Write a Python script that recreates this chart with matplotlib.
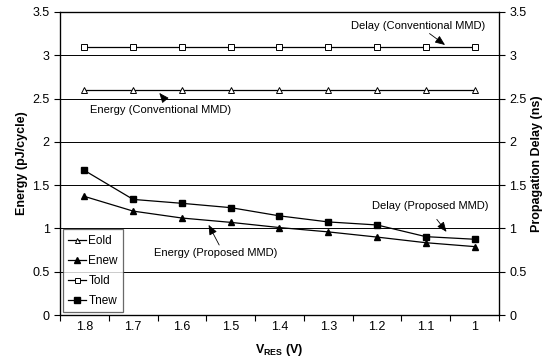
import numpy as np
import matplotlib
matplotlib.use('Agg')
import matplotlib.pyplot as plt

plt.rcParams['font.family'] = ['Liberation Sans', 'DejaVu Sans']
plt.rcParams['mathtext.fontset'] = 'custom'
plt.rcParams['mathtext.rm'] = 'Liberation Sans'
plt.rcParams['mathtext.bf'] = 'Liberation Sans:bold'

# Data
v_res = ['1.8', '1.7', '1.6', '1.5', '1.4', '1.3', '1.2', '1.1', '1']
e_old = [2.6, 2.6, 2.6, 2.6, 2.6, 2.6, 2.6, 2.6, 2.6]
e_new = [1.37, 1.20, 1.12, 1.07, 1.01, 0.96, 0.90, 0.835, 0.79]
t_old = [3.1, 3.1, 3.1, 3.1, 3.1, 3.1, 3.1, 3.1, 3.1]
t_new = [1.67, 1.335, 1.29, 1.24, 1.145, 1.075, 1.04, 0.905, 0.875]
y_ticks = [0, 0.5, 1, 1.5, 2, 2.5, 3, 3.5]
y_labels = ['0', '0.5', '1', '1.5', '2', '2.5', '3', '3.5']

x = np.arange(len(v_res))

fig = plt.figure(figsize=(5.47, 3.6), dpi=100)
ax = fig.add_axes([0.1097, 0.125, 0.8025, 0.8417])

for yv in y_ticks[1:-1]:
    ax.axhline(yv, color='black', lw=0.7, zorder=1)

ax.plot(x, e_old, '-^', color='black', lw=0.9, ms=4, mfc='white', mec='black', mew=0.7, label='Eold', zorder=3)
ax.plot(x, e_new, '-^', color='black', lw=0.9, ms=4.5, mfc='black', mec='black', label='Enew', zorder=3)
ax.plot(x, t_old, '-s', color='black', lw=0.9, ms=4, mfc='white', mec='black', mew=0.7, label='Told', zorder=3)
ax.plot(x, t_new, '-s', color='black', lw=0.9, ms=4.5, mfc='black', mec='black', label='Tnew', zorder=3)

ax.set_xlim(-0.5, len(v_res) - 0.5)
ax.set_ylim(0, 3.5)
ax.set_yticks(y_ticks)
ax.set_yticklabels(y_labels)
ax.set_xticks(x)
ax.set_xticklabels(v_res)
ax.set_xticks(np.arange(-0.5, len(v_res)), minor=True)
ax.tick_params(axis='x', which='major', length=0, pad=4, labelsize=9)
ax.tick_params(axis='x', which='minor', length=4, direction='out', width=0.8)
ax.tick_params(axis='y', length=4, direction='out', width=0.8, labelsize=9)
for s in ax.spines.values():
    s.set_linewidth(0.9)

ax2 = ax.twinx()
ax2.set_ylim(0, 3.5)
ax2.set_yticks(y_ticks)
ax2.set_yticklabels(y_labels)
ax2.tick_params(axis='y', length=4, direction='out', width=0.8, labelsize=9)

ax.set_ylabel('Energy (pJ/cycle)', fontsize=9, fontweight='bold', labelpad=3)
ax2.set_ylabel('Propagation Delay (ns)', fontsize=9, fontweight='bold', labelpad=3)
ax.set_xlabel(r'$\mathbf{V_{RES}}$ (V)', fontsize=9, fontweight='bold', labelpad=7)

leg = ax.legend(loc='lower left', fontsize=8.5, frameon=True, fancybox=False,
                edgecolor='#444444', handlelength=1.5, handletextpad=0.2,
                labelspacing=0.68, borderpad=0.45, borderaxespad=0.25, markerscale=0.9)
leg.get_frame().set_linewidth(0.9)
leg.set_zorder(5)

arrow = dict(arrowstyle='-|>,head_length=0.6,head_width=0.25', color='black', lw=0.6, mutation_scale=10)
ax.text(6.84, 3.337, 'Delay (Conventional MMD)', fontsize=8, ha='center', va='center')
ax.annotate('', xy=(7.44, 3.10), xytext=(7.03, 3.27), arrowprops=arrow)
ax.text(1.56, 2.367, 'Energy (Conventional MMD)', fontsize=8, ha='center', va='center')
ax.annotate('', xy=(1.50, 2.59), xytext=(1.66, 2.48), arrowprops=arrow)
ax.text(2.70, 0.716, 'Energy (Proposed MMD)', fontsize=8, ha='center', va='center')
ax.annotate('', xy=(2.52, 1.07), xytext=(2.79, 0.78), arrowprops=arrow)
ax.text(7.09, 1.259, 'Delay (Proposed MMD)', fontsize=8, ha='center', va='center')
ax.annotate('', xy=(7.46, 0.935), xytext=(7.19, 1.13), arrowprops=arrow)

fig.savefig('out.png', dpi=100)
